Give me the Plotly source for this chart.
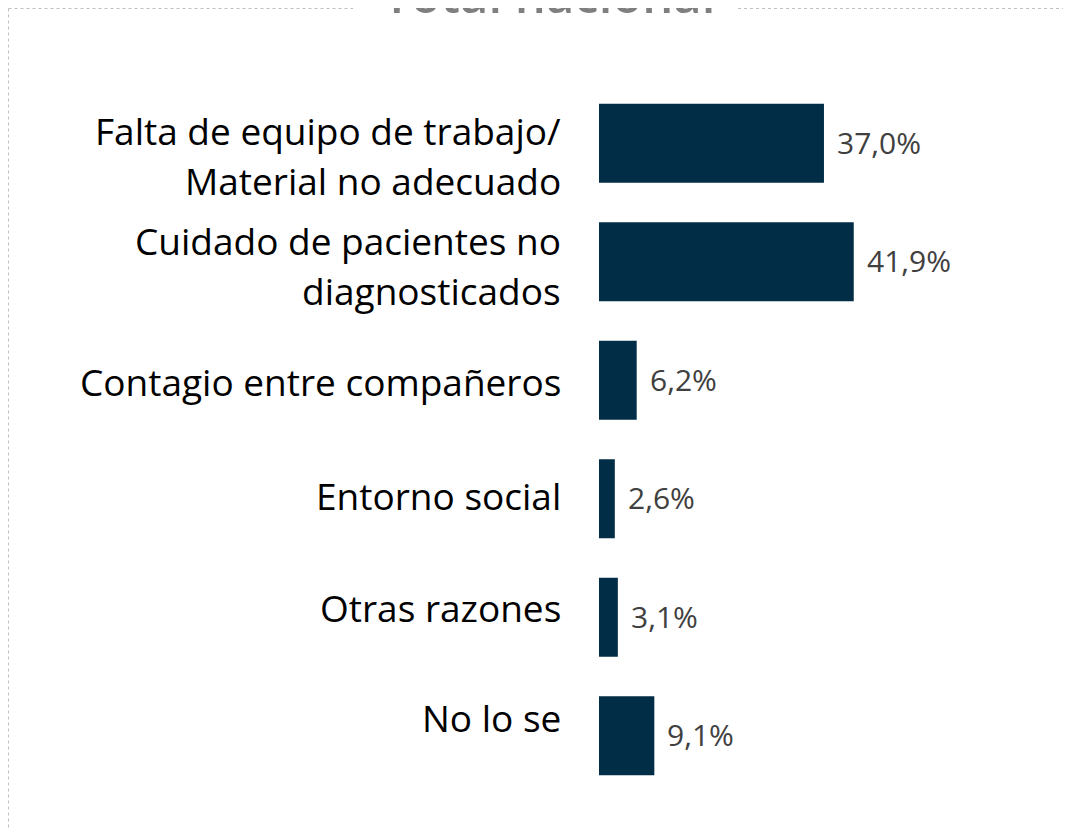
import plotly.graph_objects as go

# ---- data ----
CATEGORIES = [
    "Falta de equipo de trabajo/\nMaterial no adecuado",
    "Cuidado de pacientes no\ndiagnosticados",
    "Contagio entre compañeros",
    "Entorno social",
    "Otras razones",
    "No lo se",
]
VALUES = [37.0, 41.9, 6.2, 2.6, 3.1, 9.1]
TITLE = "Total nacional"

# ---- layout constants (figure pixels; page has an 8px body margin) ----
OFF = 8
W, H = 1063, 821
ML, MT, MB = 591, 76, 34
PW = 450
MR = W - ML - PW
PH = H - MT - MB
BAR_COLOR = "#022D47"
LABEL_FONT = "Open Sans"
LABEL_SIZE = 37
VALUE_SIZE = 30
LINE_GAP = 50
LABEL_DY = [12, 4, 1, -3, -10, -18]


def px_x(page_px):
    return (page_px - OFF - ML) / PW


def px_y(page_py):
    return 1 - (page_py - OFF - MT) / PH


fig = go.Figure(
    go.Bar(
        x=VALUES,
        y=CATEGORIES,
        orientation="h",
        marker=dict(color=BAR_COLOR, line=dict(width=0)),
        hoverinfo="skip",
    )
)

annotations = []
for cat, val, dy in zip(CATEGORIES, VALUES, LABEL_DY):
    lines = cat.split("\n")
    n = len(lines)
    for i, line in enumerate(lines):
        off = dy + (i - (n - 1) / 2) * LINE_GAP
        annotations.append(
            dict(
                x=0, xref="paper", y=cat, yref="y",
                text=line, showarrow=False,
                xanchor="right", yanchor="middle",
                xshift=-36, yshift=-off,
                font=dict(family=LABEL_FONT, size=LABEL_SIZE, color="#000000"),
            )
        )
    annotations.append(
        dict(
            x=val, xref="x", y=cat, yref="y",
            text=f"{val:.1f}".replace(".", ",") + "%",
            showarrow=False, xanchor="left", yanchor="middle",
            xshift=11, yshift=1,
            font=dict(family="Open Sans", size=VALUE_SIZE, color="#404040"),
        )
    )

annotations.append(
    dict(
        x=px_x(548.5), xref="paper", y=px_y(13), yref="paper",
        text=TITLE, showarrow=False, xanchor="center", yanchor="bottom",
        yshift=-16,
        font=dict(family="Open Sans", size=49, color="#7F7F7F", weight=600),
    )
)

border = dict(color="#BFBFBF", width=1, dash="dot")
shapes = [
    dict(type="line", xref="paper", yref="paper",
         x0=px_x(8.5), x1=px_x(353), y0=px_y(8.5), y1=px_y(8.5), line=border),
    dict(type="line", xref="paper", yref="paper",
         x0=px_x(738), x1=px_x(1075), y0=px_y(8.5), y1=px_y(8.5), line=border),
    dict(type="line", xref="paper", yref="paper",
         x0=px_x(8.5), x1=px_x(8.5), y0=px_y(8.5), y1=px_y(835), line=border),
]

fig.update_layout(
    width=W, height=H,
    margin=dict(l=ML, r=MR, t=MT, b=MB, pad=0),
    paper_bgcolor="white", plot_bgcolor="white",
    bargap=0.333,
    showlegend=False,
    xaxis=dict(range=[0, PW / 6.08], visible=False, fixedrange=True),
    yaxis=dict(range=[len(CATEGORIES) - 0.5, -0.5], autorange=False,
               showticklabels=False, showgrid=False,
               zeroline=False, showline=False, ticks="", fixedrange=True),
    annotations=annotations,
    shapes=shapes,
)

fig.write_html("out.html", config={"displayModeBar": False})
